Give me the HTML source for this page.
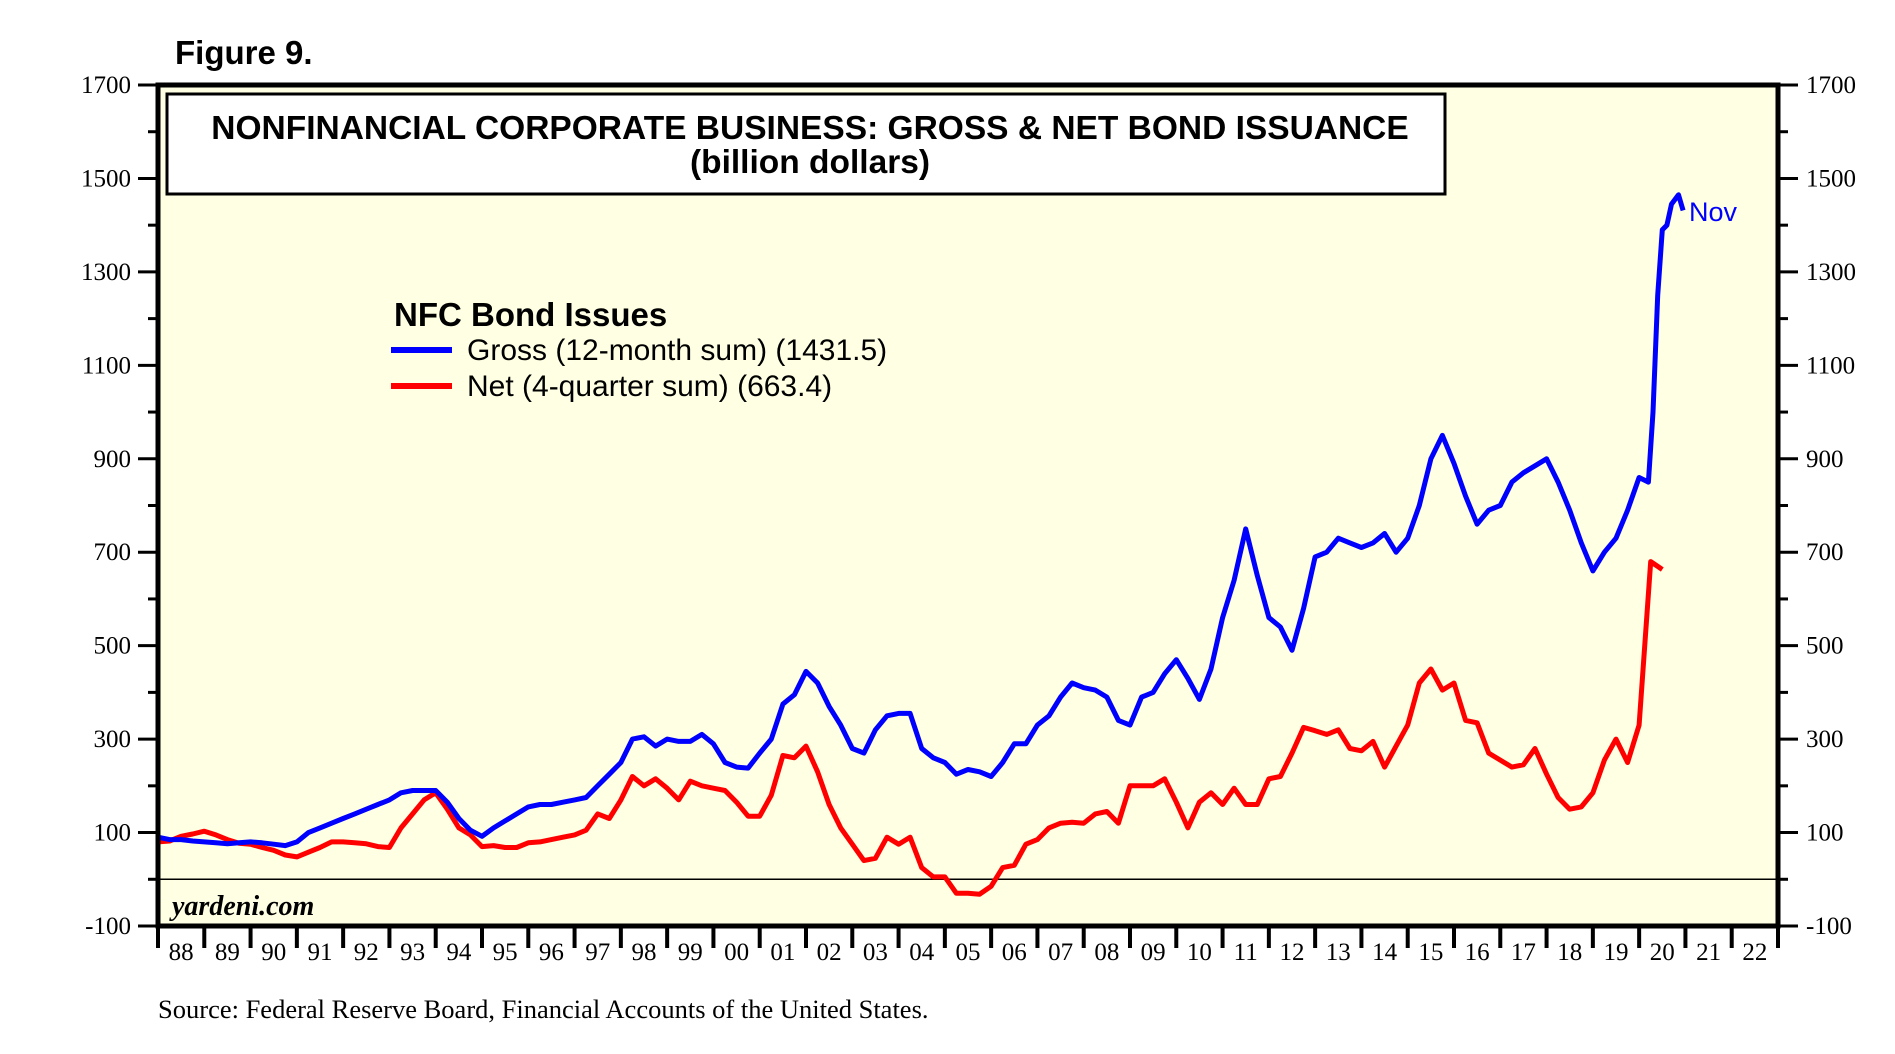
<!DOCTYPE html>
<html><head><meta charset="utf-8"><style>
html,body{margin:0;padding:0;background:#fff;}
svg{display:block;}
</style></head><body>
<svg id="chart" width="1895" height="1054" viewBox="0 0 1895 1054" xmlns="http://www.w3.org/2000/svg">
<text x="175" y="64" font-family="Liberation Sans, sans-serif" font-weight="bold" font-size="33">Figure 9.</text>
<rect x="158" y="85" width="1620" height="841" fill="#FFFFE3"/>
<g id="axes"></g>
<g id="series"></g>
<rect x="158" y="85" width="1620" height="841" fill="none" stroke="#000" stroke-width="5"/>
<rect x="167" y="94" width="1278" height="100" fill="#fff" stroke="#000" stroke-width="3"/>
<text x="810" y="139" text-anchor="middle" font-family="Liberation Sans, sans-serif" font-weight="bold" font-size="33.5">NONFINANCIAL CORPORATE BUSINESS: GROSS &amp; NET BOND ISSUANCE</text>
<text x="810" y="173" text-anchor="middle" font-family="Liberation Sans, sans-serif" font-weight="bold" font-size="33.5">(billion dollars)</text>
<text x="394" y="326" font-family="Liberation Sans, sans-serif" font-weight="bold" font-size="33">NFC Bond Issues</text>
<g>
<line x1="391" y1="350" x2="452" y2="350" stroke="#0000FF" stroke-width="6"/>
<text x="467" y="360" font-family="Liberation Sans, sans-serif" font-size="30">Gross (12-month sum) (1431.5)</text>
</g>
<g>
<line x1="391" y1="386" x2="452" y2="386" stroke="#FF0000" stroke-width="6"/>
<text x="467" y="396" font-family="Liberation Sans, sans-serif" font-size="30">Net (4-quarter sum) (663.4)</text>
</g>
<text x="1689" y="221" font-family="Liberation Sans, sans-serif" font-size="27" fill="#0000FF">Nov</text>
<text x="172" y="915" font-family="Liberation Serif, serif" font-style="italic" font-weight="bold" font-size="28">yardeni.com</text>
<text x="158" y="1018" font-family="Liberation Serif, serif" font-size="26.5">Source: Federal Reserve Board, Financial Accounts of the United States.</text>
</svg>
<script>
// ---- data ----
const yTickValues = [-100, 0, 100, 200, 300, 400, 500, 600, 700, 800, 900, 1000, 1100, 1200, 1300, 1400, 1500, 1600, 1700];
const yTickLabels = ["-100", "", "100", "", "300", "", "500", "", "700", "", "900", "", "1100", "", "1300", "", "1500", "", "1700"];
const yearLabels = ["88","89","90","91","92","93","94","95","96","97","98","99","00","01","02","03","04","05","06","07","08","09","10","11","12","13","14","15","16","17","18","19","20","21","22"];
const grossYears = [1988,1988.25,1988.5,1988.75,1989,1989.25,1989.5,1989.75,1990,1990.25,1990.5,1990.75,1991,1991.25,1991.5,1991.75,1992,1992.25,1992.5,1992.75,1993,1993.25,1993.5,1993.75,1994,1994.25,1994.5,1994.75,1995,1995.25,1995.5,1995.75,1996,1996.25,1996.5,1996.75,1997,1997.25,1997.5,1997.75,1998,1998.25,1998.5,1998.75,1999,1999.25,1999.5,1999.75,2000,2000.25,2000.5,2000.75,2001,2001.25,2001.5,2001.75,2002,2002.25,2002.5,2002.75,2003,2003.25,2003.5,2003.75,2004,2004.25,2004.5,2004.75,2005,2005.25,2005.5,2005.75,2006,2006.25,2006.5,2006.75,2007,2007.25,2007.5,2007.75,2008,2008.25,2008.5,2008.75,2009,2009.25,2009.5,2009.75,2010,2010.25,2010.5,2010.75,2011,2011.25,2011.5,2011.75,2012,2012.25,2012.5,2012.75,2013,2013.25,2013.5,2013.75,2014,2014.25,2014.5,2014.75,2015,2015.25,2015.5,2015.75,2016,2016.25,2016.5,2016.75,2017,2017.25,2017.5,2017.75,2018,2018.25,2018.5,2018.75,2019,2019.25,2019.5,2019.75,2020,2020.2,2020.3,2020.4,2020.5,2020.6,2020.7,2020.85,2020.95];
const grossValues = [90,85,85,82,80,78,76,78,80,78,75,72,80,100,110,120,130,140,150,160,170,185,190,190,190,165,130,105,92,110,125,140,155,160,160,165,170,175,200,225,250,300,305,285,300,295,295,310,290,250,240,238,270,300,375,395,445,420,370,330,280,270,320,350,355,355,280,260,250,225,235,230,220,250,290,290,330,350,390,420,410,405,390,340,330,390,400,440,470,430,385,450,560,640,750,650,560,540,490,580,690,700,730,720,710,720,740,700,730,800,900,950,890,820,760,790,800,850,870,885,900,850,790,720,660,700,730,790,860,850,1000,1250,1390,1400,1445,1465,1431.5];
const netYears = [1988,1988.25,1988.5,1988.75,1989,1989.25,1989.5,1989.75,1990,1990.25,1990.5,1990.75,1991,1991.25,1991.5,1991.75,1992,1992.25,1992.5,1992.75,1993,1993.25,1993.5,1993.75,1994,1994.25,1994.5,1994.75,1995,1995.25,1995.5,1995.75,1996,1996.25,1996.5,1996.75,1997,1997.25,1997.5,1997.75,1998,1998.25,1998.5,1998.75,1999,1999.25,1999.5,1999.75,2000,2000.25,2000.5,2000.75,2001,2001.25,2001.5,2001.75,2002,2002.25,2002.5,2002.75,2003,2003.25,2003.5,2003.75,2004,2004.25,2004.5,2004.75,2005,2005.25,2005.5,2005.75,2006,2006.25,2006.5,2006.75,2007,2007.25,2007.5,2007.75,2008,2008.25,2008.5,2008.75,2009,2009.25,2009.5,2009.75,2010,2010.25,2010.5,2010.75,2011,2011.25,2011.5,2011.75,2012,2012.25,2012.5,2012.75,2013,2013.25,2013.5,2013.75,2014,2014.25,2014.5,2014.75,2015,2015.25,2015.5,2015.75,2016,2016.25,2016.5,2016.75,2017,2017.25,2017.5,2017.75,2018,2018.25,2018.5,2018.75,2019,2019.25,2019.5,2019.75,2020,2020.25,2020.5,2020.75];
const netValues = [80,82,92,97,103,95,85,77,75,68,62,52,48,58,68,80,80,78,76,70,68,110,140,170,185,150,110,95,70,72,68,68,78,80,85,90,95,105,140,130,170,220,200,215,195,170,210,200,195,190,165,135,135,180,265,260,285,230,160,110,75,40,45,90,75,90,25,5,5,-30,-30,-32,-15,25,30,75,85,110,120,122,120,140,145,120,200,200,200,215,165,110,165,185,160,195,160,160,215,220,270,325,318,310,320,280,275,295,240,285,330,420,450,405,420,340,335,270,255,240,245,280,225,175,150,155,185,255,300,250,330,680,663];

// ---- axes ----
const X0 = 158, X1 = 1778, Y0 = 926, Y1 = 85;
const startYear = 1988, endYear = 2023;
function xScale(t){ return X0 + (t - startYear) / (endYear - startYear) * (X1 - X0); }
function yScale(v){ return Y0 - (v - (-100)) / (1700 - (-100)) * (Y0 - Y1); }
const NS = "http://www.w3.org/2000/svg";
const axes = document.getElementById('axes');
const series = document.getElementById('series');
function mk(tag, attrs, parent){ const e = document.createElementNS(NS, tag); for (const k in attrs) e.setAttribute(k, attrs[k]); parent.appendChild(e); return e; }

yTickValues.forEach((v, i) => {
  const y = yScale(v);
  const major = yTickLabels[i] !== "";
  const tl = mk('line', {x1: major ? 138 : 148, x2: X0, y1: y, y2: y, stroke: '#000', 'stroke-width': 3}, axes);
  
  
  const tr = mk('line', {x1: X1, x2: major ? 1798 : 1788, y1: y, y2: y, stroke: '#000', 'stroke-width': 3}, axes);
  
  
  if (major) {
    const l = mk('text', {x: 131, y: y + 8, 'text-anchor': 'end', 'font-family': 'Liberation Serif, serif', 'font-size': 25}, axes);
    l.textContent = yTickLabels[i];
    
    
    const r = mk('text', {x: 1806, y: y + 8, 'font-family': 'Liberation Serif, serif', 'font-size': 25}, axes);
    r.textContent = yTickLabels[i];
    
    
  }
});
const zl = mk('line', {x1: X0, x2: X1, y1: yScale(0), y2: yScale(0), stroke: '#000', 'stroke-width': 1.5}, axes);



for (let i = 0; i <= yearLabels.length; i++) {
  const x = xScale(startYear + i);
  const t = mk('line', {x1: x, x2: x, y1: Y0, y2: 948, stroke: '#000', 'stroke-width': 4}, axes);
  
  
}
yearLabels.forEach((lab, i) => {
  const t = mk('text', {x: xScale(startYear + i + 0.5), y: 960, 'text-anchor': 'middle', 'font-family': 'Liberation Serif, serif', 'font-size': 25}, axes);
  t.textContent = lab;
  
  
});

// ---- series ----
function pathFrom(xs, vs){ return xs.map((t, i) => (i ? 'L' : 'M') + xScale(t).toFixed(1) + ',' + yScale(vs[i]).toFixed(1)).join(''); }
const net = mk('path', {d: pathFrom(netYears, netValues), fill: 'none', stroke: '#FF0000', 'stroke-width': 5, 'stroke-linejoin': 'round'}, series);


const gross = mk('path', {d: pathFrom(grossYears, grossValues), fill: 'none', stroke: '#0000FF', 'stroke-width': 5, 'stroke-linejoin': 'round'}, series);


</script>
</body></html>
